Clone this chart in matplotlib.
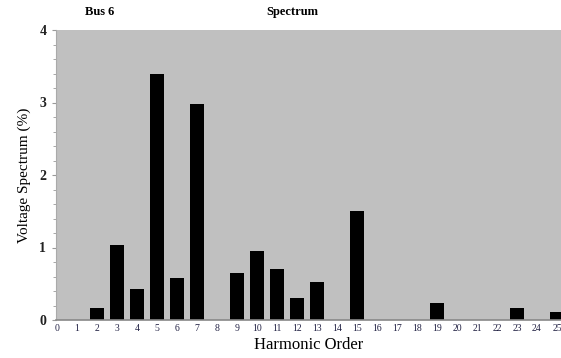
import matplotlib
matplotlib.use("Agg")
import matplotlib.pyplot as plt
from matplotlib.ticker import MultipleLocator

# harmonic orders with non-zero content, and their voltage spectrum (%)
harmonics = [2, 3, 4, 5, 6, 7, 9, 10, 11, 12, 13, 15, 19, 23, 25]
voltage = [0.16, 1.03, 0.43, 3.39, 0.58, 2.98, 0.65, 0.95, 0.71, 0.30, 0.53, 1.50, 0.23, 0.16, 0.11]
xtick_labels = [str(i) for i in range(0, 26)]

plt.rcParams['font.family'] = ['Liberation Serif', 'DejaVu Serif']

fig = plt.figure(figsize=(5.61, 3.58), dpi=100)
ax = fig.add_axes([56 / 561, 1 - 320 / 358, 1 - 56 / 561, 290 / 358])
ax.set_facecolor('#c0c0c0')

ax.bar(harmonics, voltage, width=0.72, color='black')

ax.set_xlim(-0.05, 25.2)
ax.set_ylim(0, 4)

ax.set_xticks(range(0, 26))
ax.set_xticklabels(xtick_labels, fontsize=7, color='#222244')
ax.tick_params(axis='x', length=0, pad=3)

ax.set_yticks([0, 1, 2, 3, 4])
ax.set_yticklabels(['0', '1', '2', '3', '4'], fontsize=10, fontweight='bold', color='#222222')
ax.yaxis.set_minor_locator(MultipleLocator(0.2))
ax.tick_params(axis='y', which='major', length=3, color='#999999', pad=4)
ax.tick_params(axis='y', which='minor', length=2, color='#999999')

for side in ['top', 'right']:
    ax.spines[side].set_visible(False)
ax.spines['left'].set_color('#aaaaaa')
ax.spines['bottom'].set_color('#888888')
ax.spines['bottom'].set_linewidth(1.2)

ax.set_xlabel('Harmonic Order', fontsize=12, labelpad=3)
ax.set_ylabel('Voltage Spectrum (%)', fontsize=11, labelpad=6)

fig.text(100 / 561, 1 - 12 / 358, 'Bus 6', fontsize=9, fontweight='bold', ha='center', va='center')
fig.text(292 / 561, 1 - 12 / 358, 'Spectrum', fontsize=9, fontweight='bold', ha='center', va='center')

fig.savefig('out.png', dpi=100)
